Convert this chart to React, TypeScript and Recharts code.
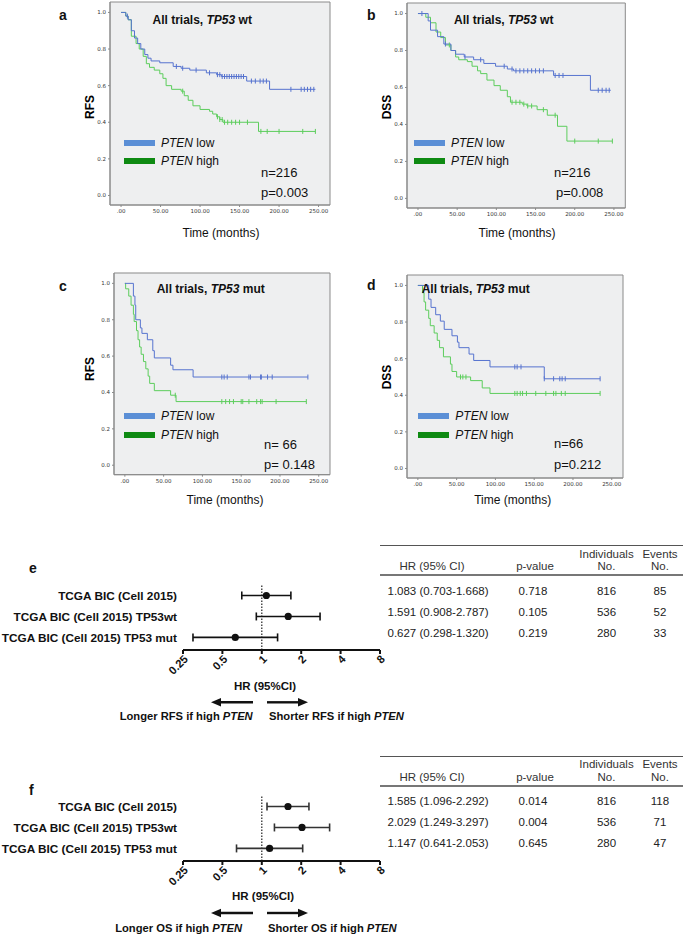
import React from "react";
import {
  ComposedChart,
  ScatterChart,
  Line,
  Scatter,
  XAxis,
  YAxis,
  ReferenceArea,
  ReferenceLine,
  ErrorBar,
} from "recharts";

// ---- Kaplan-Meier curves (months, survival) ----
const aLowT = [0, 6, 9, 13, 17, 21, 25, 30, 34, 38, 49, 66, 76, 87, 108, 121, 127, 159, 188, 246];
const aLowS = [1, 0.98, 0.96, 0.9, 0.86, 0.83, 0.8, 0.77, 0.75, 0.735, 0.725, 0.705, 0.695, 0.685, 0.67, 0.66, 0.65, 0.625, 0.58, 0.58];
const aLowCens = [8, 70, 78, 95, 112, 122, 125, 128, 131, 134, 137, 140, 143, 146, 149, 152, 155, 165, 170, 176, 180, 184, 215, 228, 232, 236, 240, 244];
const aHighT = [0, 6, 9, 13, 19, 23, 28, 32, 36, 42, 49, 53, 57, 64, 76, 80, 85, 91, 100, 112, 116, 121, 125, 129, 174, 246];
const aHighS = [1, 0.98, 0.96, 0.87, 0.83, 0.8, 0.76, 0.72, 0.7, 0.685, 0.665, 0.64, 0.6, 0.58, 0.57, 0.545, 0.52, 0.49, 0.47, 0.46, 0.445, 0.43, 0.415, 0.4, 0.35, 0.35];
const aHighCens = [78, 122, 125, 128, 131, 135, 140, 145, 150, 160, 177, 185, 200, 230, 246];

const bLowT = [0, 13, 16, 25, 33, 42, 48, 59, 71, 84, 99, 114, 122, 173, 220, 246];
const bLowS = [1, 0.96, 0.91, 0.875, 0.835, 0.8, 0.78, 0.765, 0.75, 0.73, 0.715, 0.7, 0.69, 0.665, 0.585, 0.585];
const bLowCens = [5, 35, 60, 80, 110, 120, 125, 130, 135, 140, 145, 150, 155, 160, 175, 180, 185, 230, 235, 240, 244];
const bHighT = [0, 10, 16, 23, 29, 35, 42, 48, 52, 63, 69, 76, 80, 88, 97, 105, 114, 118, 133, 139, 152, 165, 178, 190, 248];
const bHighS = [1, 0.98, 0.95, 0.9, 0.87, 0.83, 0.8, 0.765, 0.75, 0.74, 0.715, 0.69, 0.675, 0.64, 0.61, 0.585, 0.55, 0.52, 0.51, 0.5, 0.48, 0.45, 0.39, 0.31, 0.31];
const bHighCens = [40, 120, 125, 130, 135, 140, 145, 160, 175, 200, 230, 248];

const cLowT = [0, 11, 13, 14, 20, 22, 29, 36, 38, 59, 62, 88, 236];
const cLowS = [1, 0.93, 0.88, 0.8, 0.755, 0.725, 0.69, 0.63, 0.59, 0.55, 0.525, 0.485, 0.485];
const cLowCens = [125, 128, 132, 160, 162, 175, 176, 184, 190, 236];
const cHighT = [0, 1, 5, 8, 11, 12, 15, 17, 19, 21, 24, 27, 30, 32, 38, 59, 66, 234];
const cHighS = [1, 0.97, 0.93, 0.88, 0.83, 0.79, 0.74, 0.69, 0.65, 0.61, 0.57, 0.53, 0.49, 0.45, 0.41, 0.385, 0.35, 0.35];
const cHighCens = [65, 125, 130, 135, 140, 150, 152, 160, 170, 175, 177, 195, 234];

const dLowT = [0, 14, 17, 23, 29, 34, 44, 51, 53, 66, 72, 93, 163, 235];
const dLowS = [1, 0.925, 0.88, 0.84, 0.805, 0.76, 0.725, 0.69, 0.66, 0.625, 0.59, 0.555, 0.49, 0.49];
const dLowCens = [125, 128, 133, 163, 175, 183, 186, 190, 235];
const dHighT = [0, 6, 8, 10, 14, 16, 21, 25, 28, 33, 42, 44, 50, 68, 83, 93, 235];
const dHighS = [1, 0.96, 0.91, 0.865, 0.82, 0.78, 0.74, 0.7, 0.66, 0.61, 0.57, 0.53, 0.5, 0.48, 0.44, 0.41, 0.41];
const dHighCens = [55, 58, 62, 125, 128, 132, 135, 140, 152, 165, 175, 178, 185, 190, 235];

const timeTicks = [0, 50, 100, 150, 200, 250];
const survTicks = [0, 0.2, 0.4, 0.6, 0.8, 1];

// ---- forest plots ----
const studies = ["TCGA BIC (Cell 2015)", "TCGA BIC (Cell 2015) TP53wt", "TCGA BIC (Cell 2015) TP53 mut"];
const rfsHR = [1.083, 1.591, 0.627];
const rfsLo = [0.703, 0.908, 0.298];
const rfsHi = [1.668, 2.787, 1.32];
const rfsP = ["0.718", "0.105", "0.219"];
const rfsEvents = ["85", "52", "33"];
const osHR = [1.585, 2.029, 1.147];
const osLo = [1.096, 1.249, 0.641];
const osHi = [2.292, 3.297, 2.053];
const osP = ["0.014", "0.004", "0.645"];
const osEvents = ["118", "71", "47"];
const individuals = ["816", "536", "280"];
const hrTicks = [0.25, 0.5, 1, 2, 4, 8];

const BLUE = "#5673cf";
const GREEN = "#5ccd5c";
const FONT = "'Liberation Sans', Arial, sans-serif";

function stepAt(T: number[], S: number[], t: number) {
  let v = S[0];
  for (let i = 0; i < T.length; i++) if (T[i] <= t) v = S[i];
  return v;
}
const curve = (T: number[], S: number[]) => T.map((t, i) => ({ t, s: S[i] }));
const marks = (T: number[], S: number[], C: number[]) => C.map((t) => ({ t, s: stepAt(T, S, t) }));

function T({ x, y, children, size = 12, bold = false, italic = false, anchor = "start", color = "#111" }: any) {
  const tx = anchor === "middle" ? "-50%" : anchor === "end" ? "-100%" : "0";
  return (
    <div
      style={{
        position: "absolute",
        left: x,
        top: y,
        transform: `translate(${tx}, -50%)`,
        whiteSpace: "nowrap",
        fontFamily: FONT,
        fontSize: size,
        fontWeight: bold ? 700 : 400,
        fontStyle: italic ? "italic" : "normal",
        lineHeight: 1,
        color,
      }}
    >
      {children}
    </div>
  );
}

const censorShape = (color: string) => (p: any) =>
  <line x1={p.cx} x2={p.cx} y1={p.cy - 2.5} y2={p.cy + 2.5} stroke={color} strokeWidth={1} />;

function KM({ box, low, high, lowC, highC }: any) {
  const w = box.w + 45;
  const h = box.h + 24;
  const tickStyle = { fontSize: 5.5, fill: "#333", fontFamily: "'DejaVu Sans', sans-serif" };
  return (
    <div style={{ position: "absolute", left: box.x - 40, top: box.y - 2 }}>
      <ComposedChart width={w} height={h} margin={{ top: 2, right: 5, left: 0, bottom: 0 }}>
        <XAxis
          type="number"
          dataKey="t"
          domain={[-14, 264.5]}
          ticks={timeTicks}
          interval={0}
          tickFormatter={(v) => (v === 0 ? ".00" : v.toFixed(2))}
          tick={tickStyle}
          tickSize={2}
          stroke="#8a8a8a"
          height={24}
          allowDataOverflow
        />
        <YAxis
          type="number"
          dataKey="s"
          domain={[-0.052, 1.057]}
          ticks={survTicks}
          interval={0}
          tickFormatter={(v) => v.toFixed(1)}
          tick={tickStyle}
          tickSize={2}
          stroke="#8a8a8a"
          width={40}
          allowDataOverflow
        />
        <ReferenceArea x1={-14} x2={264.5} y1={-0.052} y2={1.057} fill="#eeeff0" fillOpacity={1} stroke="#8a8a8a" />
        <Line data={high} dataKey="s" type="stepAfter" stroke={GREEN} strokeWidth={1} dot={false} isAnimationActive={false} />
        <Line data={low} dataKey="s" type="stepAfter" stroke={BLUE} strokeWidth={1} dot={false} isAnimationActive={false} />
        <Scatter data={highC} dataKey="s" shape={censorShape(GREEN)} isAnimationActive={false} />
        <Scatter data={lowC} dataKey="s" shape={censorShape(BLUE)} isAnimationActive={false} />
      </ComposedChart>
    </div>
  );
}

function KMText({ p }: any) {
  return (
    <>
      <T x={p.letter[0]} y={p.letter[1]} size={14} bold>{p.id}</T>
      <T x={p.title[0]} y={p.title[1]} size={12} bold>
        All trials, <i>TP53</i> {p.kind}
      </T>
      <div style={{ position: "absolute", left: p.leg[0], top: p.leg[1] - 3, width: 31, height: 6, background: "#5b8fd6" }} />
      <div style={{ position: "absolute", left: p.leg[0], top: p.leg[2] - 3, width: 31, height: 6, background: "#0e8a12" }} />
      <T x={p.leg[0] + 37} y={p.leg[1]} size={12}><i>PTEN</i> low</T>
      <T x={p.leg[0] + 37} y={p.leg[2]} size={12}><i>PTEN</i> high</T>
      <T x={p.n[0]} y={p.n[1]} size={13}>{p.nText}</T>
      <T x={p.p[0]} y={p.p[1]} size={13}>{p.pText}</T>
      <div
        style={{
          position: "absolute",
          left: p.yl[0],
          top: p.yl[1],
          transform: "translate(-50%, -50%) rotate(-90deg)",
          fontFamily: FONT,
          fontWeight: 700,
          fontSize: 12,
          lineHeight: 1,
        }}
      >
        {p.ylabel}
      </div>
      <T x={p.xl[0]} y={p.xl[1]} size={12} anchor="middle">Time (months)</T>
    </>
  );
}

const HrTick = (props: any) => {
  const { x, y, payload } = props;
  return (
    <g transform={`translate(${x + 3},${y + 1})`}>
      <text textAnchor="end" transform="rotate(-45)" fontSize={11.2} fontWeight={700} fill="#111" fontFamily={FONT} dy="0.35em">
        {payload.value}
      </text>
    </g>
  );
};

const StudyTick = (props: any) => {
  const { x, y, payload } = props;
  return (
    <text x={x} y={y} dy="0.36em" textAnchor="end" fontSize={11.8} fontWeight={700} fill="#111" fontFamily={FONT}>
      {studies[payload.value - 1]}
    </text>
  );
};

function Forest({ top, hr, lo, hi, color }: any) {
  const data = hr.map((v: number, i: number) => ({ hr: v, row: i + 1, err: [v - lo[i], hi[i] - v] }));
  return (
    <div style={{ position: "absolute", left: 0, top }}>
      <ScatterChart width={400} height={125} margin={{ top: 25, right: 20, left: 0, bottom: 0 }}>
        <XAxis
          type="number"
          dataKey="hr"
          scale="log"
          domain={[0.25, 8]}
          ticks={hrTicks}
          interval={0}
          tick={<HrTick />}
          tickSize={4}
          stroke="#111"
          strokeWidth={2}
          height={35}
          allowDataOverflow
        />
        <YAxis
          type="number"
          dataKey="row"
          domain={[0.5, 3.6]}
          reversed
          ticks={[1, 2, 3]}
          interval={0}
          tick={<StudyTick />}
          tickLine={false}
          axisLine={false}
          tickSize={0}
          tickMargin={6}
          width={183}
        />
        <ReferenceLine x={1} stroke="#222" strokeDasharray="1.5 1.5" strokeWidth={1.2} />
        <Scatter data={data} fill="#111" isAnimationActive={false} shape={(p: any) => <circle cx={p.cx} cy={p.cy} r={3.6} fill="#111" />}>
          <ErrorBar dataKey="err" direction="x" width={4} stroke={color} strokeWidth={1.6} />
        </Scatter>
      </ScatterChart>
    </div>
  );
}

function Arrows({ y }: any) {
  return (
    <svg style={{ position: "absolute", left: 0, top: 0 }} width={685} height={936}>
      <line x1={220} x2={253} y1={y} y2={y} stroke="#111" strokeWidth={2.4} />
      <polygon points={`211,${y} 221,${y - 4.2} 221,${y + 4.2}`} fill="#111" />
      <line x1={267} x2={299} y1={y} y2={y} stroke="#111" strokeWidth={2.4} />
      <polygon points={`308,${y} 298,${y - 4.2} 298,${y + 4.2}`} fill="#111" />
    </svg>
  );
}

function Table({ top, hr, lo, hi, pv, ev }: any) {
  const rows = [top + 46.5, top + 67.5, top + 88.5];
  const c = { hr: 432, p: 535, ind: 606.5, ev: 660 };
  const fs = 11.5;
  return (
    <>
      <div style={{ position: "absolute", left: 380, top: top, width: 303, height: 1, background: "#555" }} />
      <T x={c.hr} y={top + 22} size={fs} anchor="middle" color="#333">HR (95% CI)</T>
      <T x={c.p} y={top + 22} size={fs} anchor="middle" color="#333">p-value</T>
      <T x={c.ind} y={top + 9.5} size={fs} anchor="middle" color="#333">Individuals</T>
      <T x={c.ind} y={top + 22} size={fs} anchor="middle" color="#333">No.</T>
      <T x={c.ev} y={top + 9.5} size={fs} anchor="middle" color="#333">Events</T>
      <T x={c.ev} y={top + 22} size={fs} anchor="middle" color="#333">No.</T>
      <div style={{ position: "absolute", left: 380, top: top + 29, width: 303, height: 2, background: "#777" }} />
      {rows.map((y, i) => (
        <React.Fragment key={i}>
          <T x={438} y={y} size={fs} anchor="middle" color="#222">
            {`${hr[i].toFixed(3)} (${lo[i].toFixed(3)}-${hi[i].toFixed(3)})`}
          </T>
          <T x={c.p - 2} y={y} size={fs} anchor="middle" color="#222">{pv[i]}</T>
          <T x={c.ind} y={y} size={fs} anchor="middle" color="#222">{individuals[i]}</T>
          <T x={c.ev} y={y} size={fs} anchor="middle" color="#222">{ev[i]}</T>
        </React.Fragment>
      ))}
    </>
  );
}

const panels = [
  {
    id: "a", kind: "wt", box: { x: 110, y: 2, w: 220, h: 205 },
    low: curve(aLowT, aLowS), high: curve(aHighT, aHighS),
    lowC: marks(aLowT, aLowS, aLowCens), highC: marks(aHighT, aHighS, aHighCens),
    letter: [59, 15], title: [152.5, 20], leg: [124, 143, 161], n: [261, 172], p: [261, 192],
    nText: "n=216", pText: "p=0.003", ylabel: "RFS", yl: [90, 107], xl: [221, 233],
  },
  {
    id: "b", kind: "wt", box: { x: 406.7, y: 3, w: 218.3, h: 207 },
    low: curve(bLowT, bLowS), high: curve(bHighT, bHighS),
    lowC: marks(bLowT, bLowS, bLowCens), highC: marks(bHighT, bHighS, bHighCens),
    letter: [367, 15], title: [454, 20], leg: [414, 143, 161], n: [554, 172], p: [556, 192],
    nText: "n=216", pText: "p=0.008", ylabel: "DSS", yl: [386.7, 107], xl: [517, 233],
  },
  {
    id: "c", kind: "mut", box: { x: 114, y: 273, w: 216, h: 203.7 },
    low: curve(cLowT, cLowS), high: curve(cHighT, cHighS),
    lowC: marks(cLowT, cLowS, cLowCens), highC: marks(cHighT, cHighS, cHighCens),
    letter: [59, 286], title: [156.7, 289], leg: [124, 416.3, 434.7], n: [264, 444], p: [264, 464],
    nText: "n= 66", pText: "p= 0.148", ylabel: "RFS", yl: [90, 369], xl: [225, 500],
  },
  {
    id: "d", kind: "mut", box: { x: 406.7, y: 275, w: 216, h: 205 },
    low: curve(dLowT, dLowS), high: curve(dHighT, dHighS),
    lowC: marks(dLowT, dLowS, dLowCens), highC: marks(dHighT, dHighS, dHighCens),
    letter: [367, 285], title: [421.7, 289], leg: [418.3, 416.3, 434.7], n: [554, 443.3], p: [554, 464],
    nText: "n=66", pText: "p=0.212", ylabel: "DSS", yl: [386.7, 376.7], xl: [512.7, 500],
  },
];

export default function App() {
  return (
    <div style={{ position: "absolute", left: 0, top: 0, width: 685, height: 936, background: "#fff", overflow: "hidden" }}>
      {panels.map((p) => (
        <React.Fragment key={p.id}>
          <KM box={p.box} low={p.low} high={p.high} lowC={p.lowC} highC={p.highC} />
          <KMText p={p} />
        </React.Fragment>
      ))}

      {/* e */}
      <T x={29} y={568} size={14} bold>e</T>
      <Forest top={560} hr={rfsHR} lo={rfsLo} hi={rfsHi} color="#111" />
      <T x={265} y={686.7} size={11.5} bold anchor="middle">HR (95%CI)</T>
      <Arrows y={702.3} />
      <T x={252.7} y={716.7} size={11.2} bold anchor="end">Longer RFS if high <i>PTEN</i></T>
      <T x={269} y={716.7} size={11.2} bold>Shorter RFS if high <i>PTEN</i></T>
      <Table top={545} hr={rfsHR} lo={rfsLo} hi={rfsHi} pv={rfsP} ev={rfsEvents} />

      {/* f */}
      <T x={29} y={790} size={14} bold>f</T>
      <Forest top={770.7} hr={osHR} lo={osLo} hi={osHi} color="#333" />
      <T x={263} y={897} size={11.5} bold anchor="middle">HR (95%CI)</T>
      <Arrows y={913} />
      <T x={242} y={929} size={11.2} bold anchor="end">Longer OS if high <i>PTEN</i></T>
      <T x={268} y={929} size={11.2} bold>Shorter OS if high <i>PTEN</i></T>
      <Table top={755.7} hr={osHR} lo={osLo} hi={osHi} pv={osP} ev={osEvents} />
    </div>
  );
}
